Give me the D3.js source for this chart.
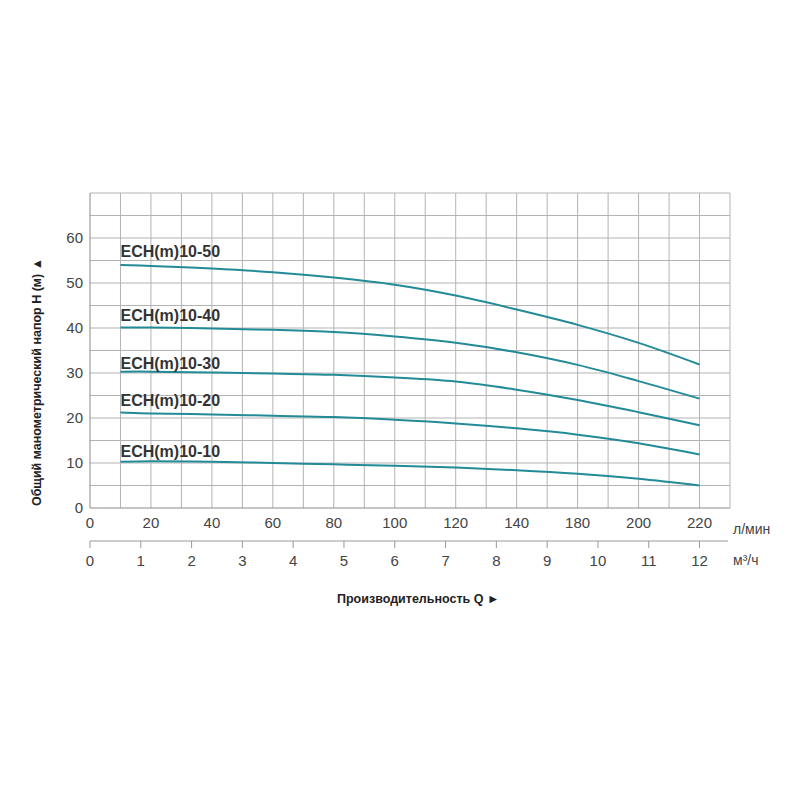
<!DOCTYPE html>
<html lang="ru">
<head>
    <meta charset="UTF-8">
    <title>ECH(m)10 - напорные характеристики</title>
    <script src="https://d3js.org/d3.v7.min.js"></script>
    <style>
        body {
            margin: 0;
            padding: 0;
            background: #fff;
        }
        #chart text {
            font-family: "Liberation Sans", Arial, sans-serif;
        }
    </style>
</head>
<body>
    <div id="chart"></div>

    <script>
        // Flow points (l/min) where the curves were read
        const flowLpm = [10, 20, 40, 60, 80, 100, 120, 140, 160, 180, 200];

        // Head H (m) for each pump model
        const head1050 = [54.0, 53.8, 53.2, 52.4, 51.2, 49.6, 47.2, 44.1, 40.7, 36.7, 31.9];
        const head1040 = [40.1, 40.1, 39.9, 39.6, 39.1, 38.1, 36.7, 34.6, 31.8, 28.2, 24.3];
        const head1030 = [30.3, 30.3, 30.1, 29.9, 29.6, 29.0, 28.1, 26.3, 24.0, 21.3, 18.4];
        const head1020 = [21.2, 21.0, 20.8, 20.5, 20.2, 19.6, 18.8, 17.7, 16.3, 14.4, 11.9];
        const head1010 = [10.3, 10.4, 10.3, 10.0, 9.7, 9.4, 9.0, 8.4, 7.6, 6.5, 5.0];

        const seriesNames = ["ECH(m)10-50", "ECH(m)10-40", "ECH(m)10-30", "ECH(m)10-20", "ECH(m)10-10"];
        const seriesHeads = [head1050, head1040, head1030, head1020, head1010];
        // head value where each model name sits
        const labelHead = [55.7, 41.6, 31.0, 22.7, 11.3];

        // Tick values and labels (the picture skips 160 on the l/min axis)
        const headTicks = [0, 10, 20, 30, 40, 50, 60];
        const lpmTicks = [0, 20, 40, 60, 80, 100, 120, 140, 160, 180, 200];
        const lpmTickLabels = ["0", "20", "40", "60", "80", "100", "120", "140", "180", "200", "220"];
        const m3hTicks = [0, 1, 2, 3, 4, 5, 6, 7, 8, 9, 10, 11, 12];

        const width = 800, height = 800;
        const plotLeft = 90, plotRight = 730, plotTop = 193, plotBottom = 508;

        const svg = d3.select("#chart")
            .append("svg")
            .attr("width", width)
            .attr("height", height);

        const x = d3.scaleLinear().domain([0, 210]).range([plotLeft, plotRight]);
        const y = d3.scaleLinear().domain([0, 70]).range([plotBottom, plotTop]);
        // second flow axis in m³/h (200 l/min = 12 m³/h)
        const xm = d3.scaleLinear().domain([0, 12.6]).range([plotLeft, plotRight]);

        // Grid
        const grid = svg.append("g").attr("stroke", "#b3b3b3").attr("stroke-width", 1);
        grid.selectAll("line.v")
            .data(d3.range(10, 211, 10))
            .enter()
            .append("line")
            .attr("x1", d => x(d)).attr("x2", d => x(d))
            .attr("y1", plotTop).attr("y2", plotBottom);
        grid.selectAll("line.h")
            .data(d3.range(5, 71, 5))
            .enter()
            .append("line")
            .attr("x1", plotLeft).attr("x2", plotRight)
            .attr("y1", d => y(d)).attr("y2", d => y(d));

        // Axes lines
        svg.append("line")
            .attr("x1", plotLeft).attr("x2", plotLeft)
            .attr("y1", plotTop).attr("y2", plotBottom)
            .attr("stroke", "#8a8a8a");
        svg.append("line")
            .attr("x1", plotLeft).attr("x2", plotRight)
            .attr("y1", plotBottom).attr("y2", plotBottom)
            .attr("stroke", "#8a8a8a");

        // Head tick labels
        svg.selectAll("text.ytick")
            .data(headTicks)
            .enter()
            .append("text")
            .attr("x", plotLeft - 7)
            .attr("y", d => y(d))
            .attr("dy", "0.36em")
            .attr("text-anchor", "end")
            .attr("font-size", 15)
            .attr("fill", "#444")
            .text(d => d);

        // l/min tick labels
        svg.selectAll("text.lpm")
            .data(lpmTicks)
            .enter()
            .append("text")
            .attr("x", d => x(d))
            .attr("y", 523)
            .attr("dy", "0.36em")
            .attr("text-anchor", "middle")
            .attr("font-size", 15)
            .attr("fill", "#444")
            .text((d, i) => lpmTickLabels[i]);

        svg.append("text")
            .attr("x", 733).attr("y", 529)
            .attr("dy", "0.36em")
            .attr("font-size", 14)
            .attr("fill", "#444")
            .text("л/мин");

        // m³/h axis
        const mAxisY = 541;
        svg.append("line")
            .attr("x1", plotLeft).attr("x2", 728)
            .attr("y1", mAxisY).attr("y2", mAxisY)
            .attr("stroke", "#999");
        svg.selectAll("line.mtick")
            .data(m3hTicks)
            .enter()
            .append("line")
            .attr("x1", d => xm(d)).attr("x2", d => xm(d))
            .attr("y1", mAxisY).attr("y2", mAxisY + 7)
            .attr("stroke", "#999");
        svg.selectAll("text.mtick")
            .data(m3hTicks)
            .enter()
            .append("text")
            .attr("x", d => xm(d))
            .attr("y", 561)
            .attr("dy", "0.36em")
            .attr("text-anchor", "middle")
            .attr("font-size", 15)
            .attr("fill", "#444")
            .text(d => d);

        svg.append("text")
            .attr("x", 733).attr("y", 560)
            .attr("dy", "0.36em")
            .attr("font-size", 14)
            .attr("fill", "#444")
            .text("м³/ч");

        // Curves
        const line = d3.line()
            .x((d, i) => x(flowLpm[i]))
            .y(d => y(d))
            .curve(d3.curveCatmullRom.alpha(0.5));

        svg.selectAll("path.curve")
            .data(seriesHeads)
            .enter()
            .append("path")
            .attr("d", line)
            .attr("fill", "none")
            .attr("stroke", "#238b97")
            .attr("stroke-width", 2);

        // Model names
        svg.selectAll("text.name")
            .data(seriesNames)
            .enter()
            .append("text")
            .attr("x", x(flowLpm[0]))
            .attr("y", (d, i) => y(labelHead[i]))
            .attr("font-size", 16)
            .attr("font-weight", "bold")
            .attr("fill", "#333")
            .text(d => d);

        // Axis titles
        svg.append("text")
            .attr("transform", "translate(41, 382) rotate(-90)")
            .attr("text-anchor", "middle")
            .attr("font-size", 12.5)
            .attr("font-weight", "bold")
            .attr("fill", "#222")
            .text("Общий манометрический напор H (м)  ▲");

        svg.append("text")
            .attr("x", 337).attr("y", 598)
            .attr("dy", "0.36em")
            .attr("font-size", 12.5)
            .attr("font-weight", "bold")
            .attr("fill", "#222")
            .text("Производительность Q  ►");
    </script>
</body>
</html>
